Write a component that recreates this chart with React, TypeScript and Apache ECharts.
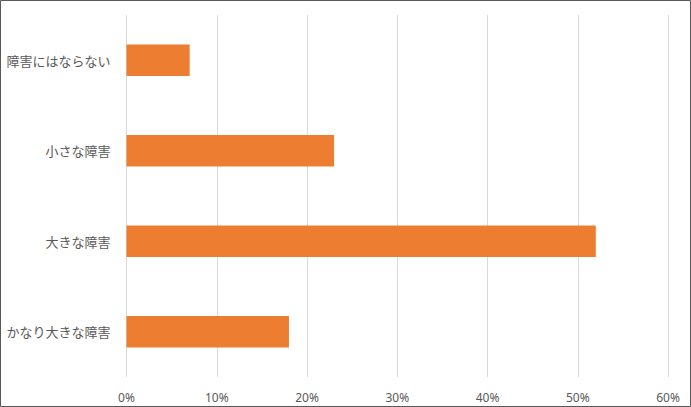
import React, { useEffect, useRef } from "react";
import * as echarts from "echarts";

const categories = ["障害にはならない", "小さな障害", "大きな障害", "かなり大きな障害"];
const values = [7, 23, 52, 18];
const xTicks = [0, 10, 20, 30, 40, 50, 60];

export default function App() {
  const ref = useRef<HTMLDivElement>(null);
  useEffect(() => {
    document.body.style.margin = "0";
    const chart = echarts.init(ref.current!, null, { renderer: "svg" });
    chart.setOption({
      animation: false,
      backgroundColor: "#ffffff",
      textStyle: { fontFamily: "'Noto Sans CJK JP', 'Noto Sans', sans-serif" },
      grid: { left: 126.5, right: 23, top: 15, bottom: 30, containLabel: false },
      xAxis: {
        type: "value",
        min: xTicks[0],
        max: xTicks[xTicks.length - 1],
        interval: 10,
        axisLine: { show: false },
        axisTick: { show: false },
        splitLine: { show: true, lineStyle: { color: "#d9d9d9", width: 1 } },
        axisLabel: {
          formatter: (v: number) => v + "%",
          color: "#595959",
          fontSize: 12,
          margin: 14,
          fontFamily: "'Noto Sans', sans-serif",
        },
      },
      yAxis: {
        type: "category",
        data: categories,
        inverse: true,
        axisLine: { show: false },
        axisTick: { show: false },
        splitLine: { show: false },
        axisLabel: {
          color: "#595959",
          fontSize: 13,
          margin: 16,
          fontFamily: "'Noto Sans CJK JP', sans-serif",
        },
      },
      series: [
        {
          type: "bar",
          data: values,
          barWidth: "35%",
          itemStyle: { color: "#ed7d31" },
        },
      ],
      graphic: [
        {
          type: "rect",
          shape: { x: 0.5, y: 0.5, width: 690, height: 406 },
          style: { fill: "none", stroke: "#595959", lineWidth: 1 },
          silent: true,
          z: 100,
        },
      ],
    });
    return () => chart.dispose();
  }, []);
  return (
    <div
      ref={ref}
      style={{ position: "absolute", left: 0, top: 0, width: 691, height: 407 }}
    />
  );
}
